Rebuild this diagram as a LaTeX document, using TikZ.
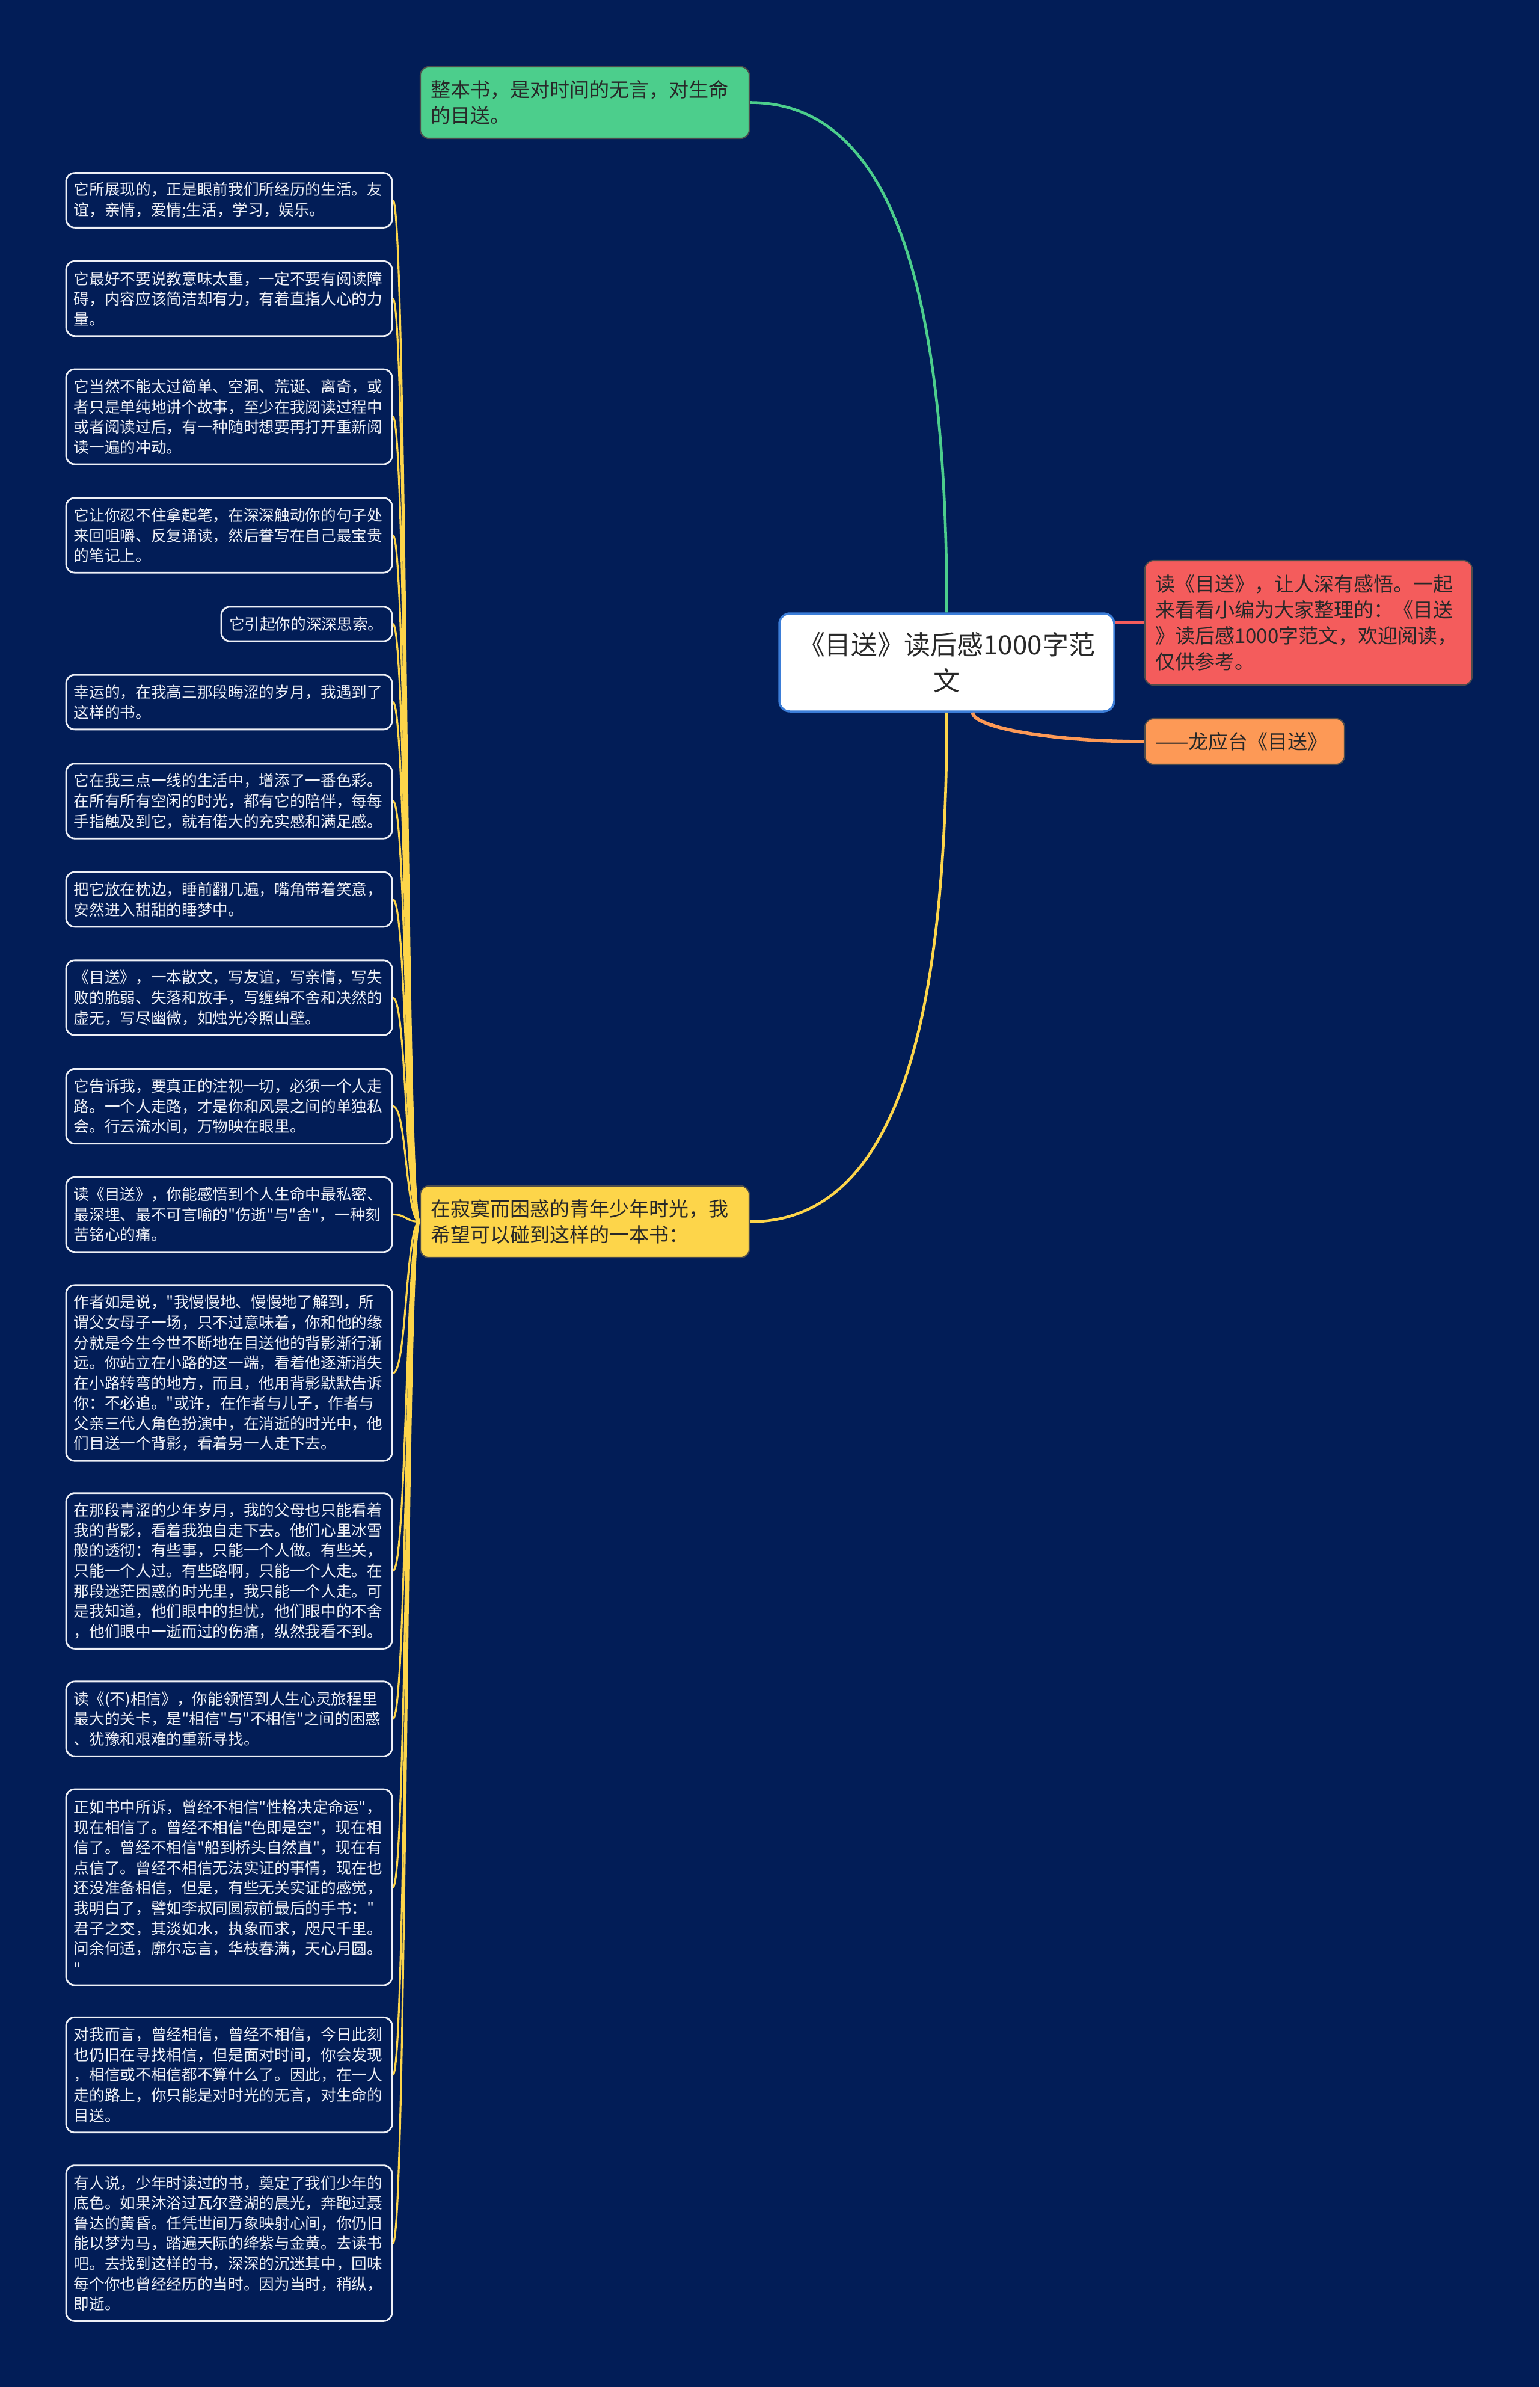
\documentclass[tikz,border=0pt]{standalone}
\usepackage{xcolor}
\usepackage{fontspec}
\usepackage{tikz}
\usetikzlibrary{positioning, calc}
\newfontfamily\cjk{Noto Sans CJK SC}
\definecolor{mynavy}{RGB}{2,29,87}
\definecolor{mygreen}{RGB}{76,206,140}
\definecolor{mycoral}{RGB}{244,92,92}
\definecolor{myorange}{RGB}{253,153,86}
\definecolor{mygold}{RGB}{253,213,74}
\definecolor{myblue}{RGB}{59,125,216}
\definecolor{myink}{RGB}{40,40,40}
\definecolor{mypaper}{RGB}{238,240,246}
\tikzset{
  topic/.style={rectangle, draw=black!70, text=myink,
    text width=5.13cm, align=left, inner xsep=0.17cm, inner ysep=0.05cm,
    font=\cjk\fontsize{9.4}{12.2}\selectfont, rounded corners=4pt, line width=0.6pt},
  leaf/.style={rectangle, draw=mypaper, fill=mynavy, text=mypaper,
    text width=5.16cm, align=left, inner xsep=0.13cm, inner ysep=0.06cm,
    minimum height={#1*0.336cm+0.235cm},
    font=\cjk\fontsize{7.3}{9.55}\selectfont, rounded corners=4pt, line width=0.8pt},
  link/.style={line width=1.3pt},
  twig/.style={color=mygold, line width=0.9pt}
}

\begin{document}
\begin{tikzpicture}[
  root/.style={rectangle, draw=myblue, fill=white, text=myink, text width=5.1cm, align=center,
    inner xsep=0.2cm, minimum width=5.57cm, minimum height=1.63cm,
    font=\cjk\fontsize{12.5}{17}\selectfont, rounded corners=5pt, line width=1pt}]

  \useasboundingbox (0,0) rectangle (25.60,-39.69);
  \fill[mynavy] (0,0) rectangle (25.60,-39.69);

  % Root
  \node[root] (root) at (15.745,-11.015) {《目送》读后感1000字范\\文};

  % Branches
  \node[topic, fill=mygreen, minimum height=1.19cm] (whole) at (9.725,-1.705) {整本书，是对时间的无言，对生命\\的目送。};
  \node[topic, fill=mycoral, minimum height=2.07cm, text width=5.10cm] (intro) at (21.76,-10.355) {读《目送》，让人深有感悟。一起\\来看看小编为大家整理的：《目送\\》读后感1000字范文，欢迎阅读，\\仅供参考。};
  \node[topic, fill=myorange, minimum height=0.76cm, text width=2.98cm] (author) at (20.70,-12.33) {——龙应台《目送》};
  \node[topic, fill=mygold, minimum height=1.19cm] (hope) at (9.725,-20.315) {在寂寞而困惑的青年少年时光，我\\希望可以碰到这样的一本书：};

  % Leaves
  \node[leaf=2] (shows) at (3.81,-3.33) {它所展现的，正是眼前我们所经历的生活。友\\谊，亲情，爱情;生活，学习，娱乐。};
  \node[leaf=3] (tone) at (3.81,-4.965) {它最好不要说教意味太重，一定不要有阅读障\\碍，内容应该简洁却有力，有着直指人心的力\\量。};
  \node[leaf=4] (depth) at (3.81,-6.93) {它当然不能太过简单、空洞、荒诞、离奇，或\\者只是单纯地讲个故事，至少在我阅读过程中\\或者阅读过后，有一种随时想要再打开重新阅\\读一遍的冲动。};
  \node[leaf=3] (notes) at (3.81,-8.90) {它让你忍不住拿起笔，在深深触动你的句子处\\来回咀嚼、反复诵读，然后誊写在自己最宝贵\\的笔记上。};
  \node[leaf=1, text width=2.58cm] (think) at (5.10,-10.375) {它引起你的深深思索。};
  \node[leaf=2] (lucky) at (3.81,-11.675) {幸运的，在我高三那段晦涩的岁月，我遇到了\\这样的书。};
  \node[leaf=3] (color) at (3.81,-13.32) {它在我三点一线的生活中，增添了一番色彩。\\在所有所有空闲的时光，都有它的陪伴，每每\\手指触及到它，就有偌大的充实感和满足感。};
  \node[leaf=2] (pillow) at (3.81,-14.955) {把它放在枕边，睡前翻几遍，嘴角带着笑意，\\安然进入甜甜的睡梦中。};
  \node[leaf=3] (prose) at (3.81,-16.59) {《目送》，一本散文，写友谊，写亲情，写失\\败的脆弱、失落和放手，写缠绵不舍和决然的\\虚无，写尽幽微，如烛光冷照山壁。};
  \node[leaf=3] (alone) at (3.81,-18.395) {它告诉我，要真正的注视一切，必须一个人走\\路。一个人走路，才是你和风景之间的单独私\\会。行云流水间，万物映在眼里。};
  \node[leaf=3] (grief) at (3.81,-20.195) {读《目送》，你能感悟到个人生命中最私密、\\最深埋、最不可言喻的"伤逝"与"舍"，一种刻\\苦铭心的痛。};
  \node[leaf=8] (backs) at (3.81,-22.83) {作者如是说，"我慢慢地、慢慢地了解到，所\\谓父女母子一场，只不过意味着，你和他的缘\\分就是今生今世不断地在目送他的背影渐行渐\\远。你站立在小路的这一端，看着他逐渐消失\\在小路转弯的地方，而且，他用背影默默告诉\\你：不必追。"或许，在作者与儿子，作者与\\父亲三代人角色扮演中，在消逝的时光中，他\\们目送一个背影，看着另一人走下去。};
  \node[leaf=7] (parents) at (3.81,-26.12) {在那段青涩的少年岁月，我的父母也只能看着\\我的背影，看着我独自走下去。他们心里冰雪\\般的透彻：有些事，只能一个人做。有些关，\\只能一个人过。有些路啊，只能一个人走。在\\那段迷茫困惑的时光里，我只能一个人走。可\\是我知道，他们眼中的担忧，他们眼中的不舍\\，他们眼中一逝而过的伤痛，纵然我看不到。};
  \node[leaf=3] (belief) at (3.81,-28.58) {读《(不)相信》，你能领悟到人生心灵旅程里\\最大的关卡，是"相信"与"不相信"之间的困惑\\、犹豫和艰难的重新寻找。};
  \node[leaf=9] (fate) at (3.81,-31.38) {正如书中所诉，曾经不相信"性格决定命运"，\\现在相信了。曾经不相信"色即是空"，现在相\\信了。曾经不相信"船到桥头自然直"，现在有\\点信了。曾经不相信无法实证的事情，现在也\\还没准备相信，但是，有些无关实证的感觉，\\我明白了，譬如李叔同圆寂前最后的手书："\\君子之交，其淡如水，执象而求，咫尺千里。\\问余何适，廓尔忘言，华枝春满，天心月圆。\\"};
  \node[leaf=5] (time) at (3.81,-34.50) {对我而言，曾经相信，曾经不相信，今日此刻\\也仍旧在寻找相信，但是面对时间，你会发现\\，相信或不相信都不算什么了。因此，在一人\\走的路上，你只能是对时光的无言，对生命的\\目送。};
  \node[leaf=7] (youth) at (3.81,-37.30) {有人说，少年时读过的书，奠定了我们少年的\\底色。如果沐浴过瓦尔登湖的晨光，奔跑过聂\\鲁达的黄昏。任凭世间万象映射心间，你仍旧\\能以梦为马，踏遍天际的绛紫与金黄。去读书\\吧。去找到这样的书，深深的沉迷其中，回味\\每个你也曾经经历的当时。因为当时，稍纵，\\即逝。};

  % Connections
  \draw[link, mygreen] (whole.east) .. controls +(2.5,0) and +(0,5) .. (root.north);
  \draw[link, mycoral, line width=1.6pt] (intro.west) -- (intro.west -| root.east);
  \draw[link, myorange, line width=1.6pt] ($(root.south)+(0.43,0)$) .. controls +(0,-0.25) and +(-1.5,0) .. (author.west);
  \draw[link, mygold] (root.south) .. controls +(0,-5) and +(2.5,0) .. (hope.east);

  \draw[twig] (hope.west) .. controls +(-0.235,0) and +(0.235,0) .. (shows.east);
  \draw[twig] (hope.west) .. controls +(-0.235,0) and +(0.235,0) .. (tone.east);
  \draw[twig] (hope.west) .. controls +(-0.235,0) and +(0.235,0) .. (depth.east);
  \draw[twig] (hope.west) .. controls +(-0.235,0) and +(0.235,0) .. (notes.east);
  \draw[twig] (hope.west) .. controls +(-0.235,0) and +(0.235,0) .. (think.east);
  \draw[twig] (hope.west) .. controls +(-0.235,0) and +(0.235,0) .. (lucky.east);
  \draw[twig] (hope.west) .. controls +(-0.235,0) and +(0.235,0) .. (color.east);
  \draw[twig] (hope.west) .. controls +(-0.235,0) and +(0.235,0) .. (pillow.east);
  \draw[twig] (hope.west) .. controls +(-0.235,0) and +(0.235,0) .. (prose.east);
  \draw[twig] (hope.west) .. controls +(-0.235,0) and +(0.235,0) .. (alone.east);
  \draw[twig] (hope.west) .. controls +(-0.235,0) and +(0.235,0) .. (grief.east);
  \draw[twig] (hope.west) .. controls +(-0.235,0) and +(0.235,0) .. (backs.east);
  \draw[twig] (hope.west) .. controls +(-0.235,0) and +(0.235,0) .. (parents.east);
  \draw[twig] (hope.west) .. controls +(-0.235,0) and +(0.235,0) .. (belief.east);
  \draw[twig] (hope.west) .. controls +(-0.235,0) and +(0.235,0) .. (fate.east);
  \draw[twig] (hope.west) .. controls +(-0.235,0) and +(0.235,0) .. (time.east);
  \draw[twig] (hope.west) .. controls +(-0.235,0) and +(0.235,0) .. (youth.east);

\end{tikzpicture}
\end{document}
